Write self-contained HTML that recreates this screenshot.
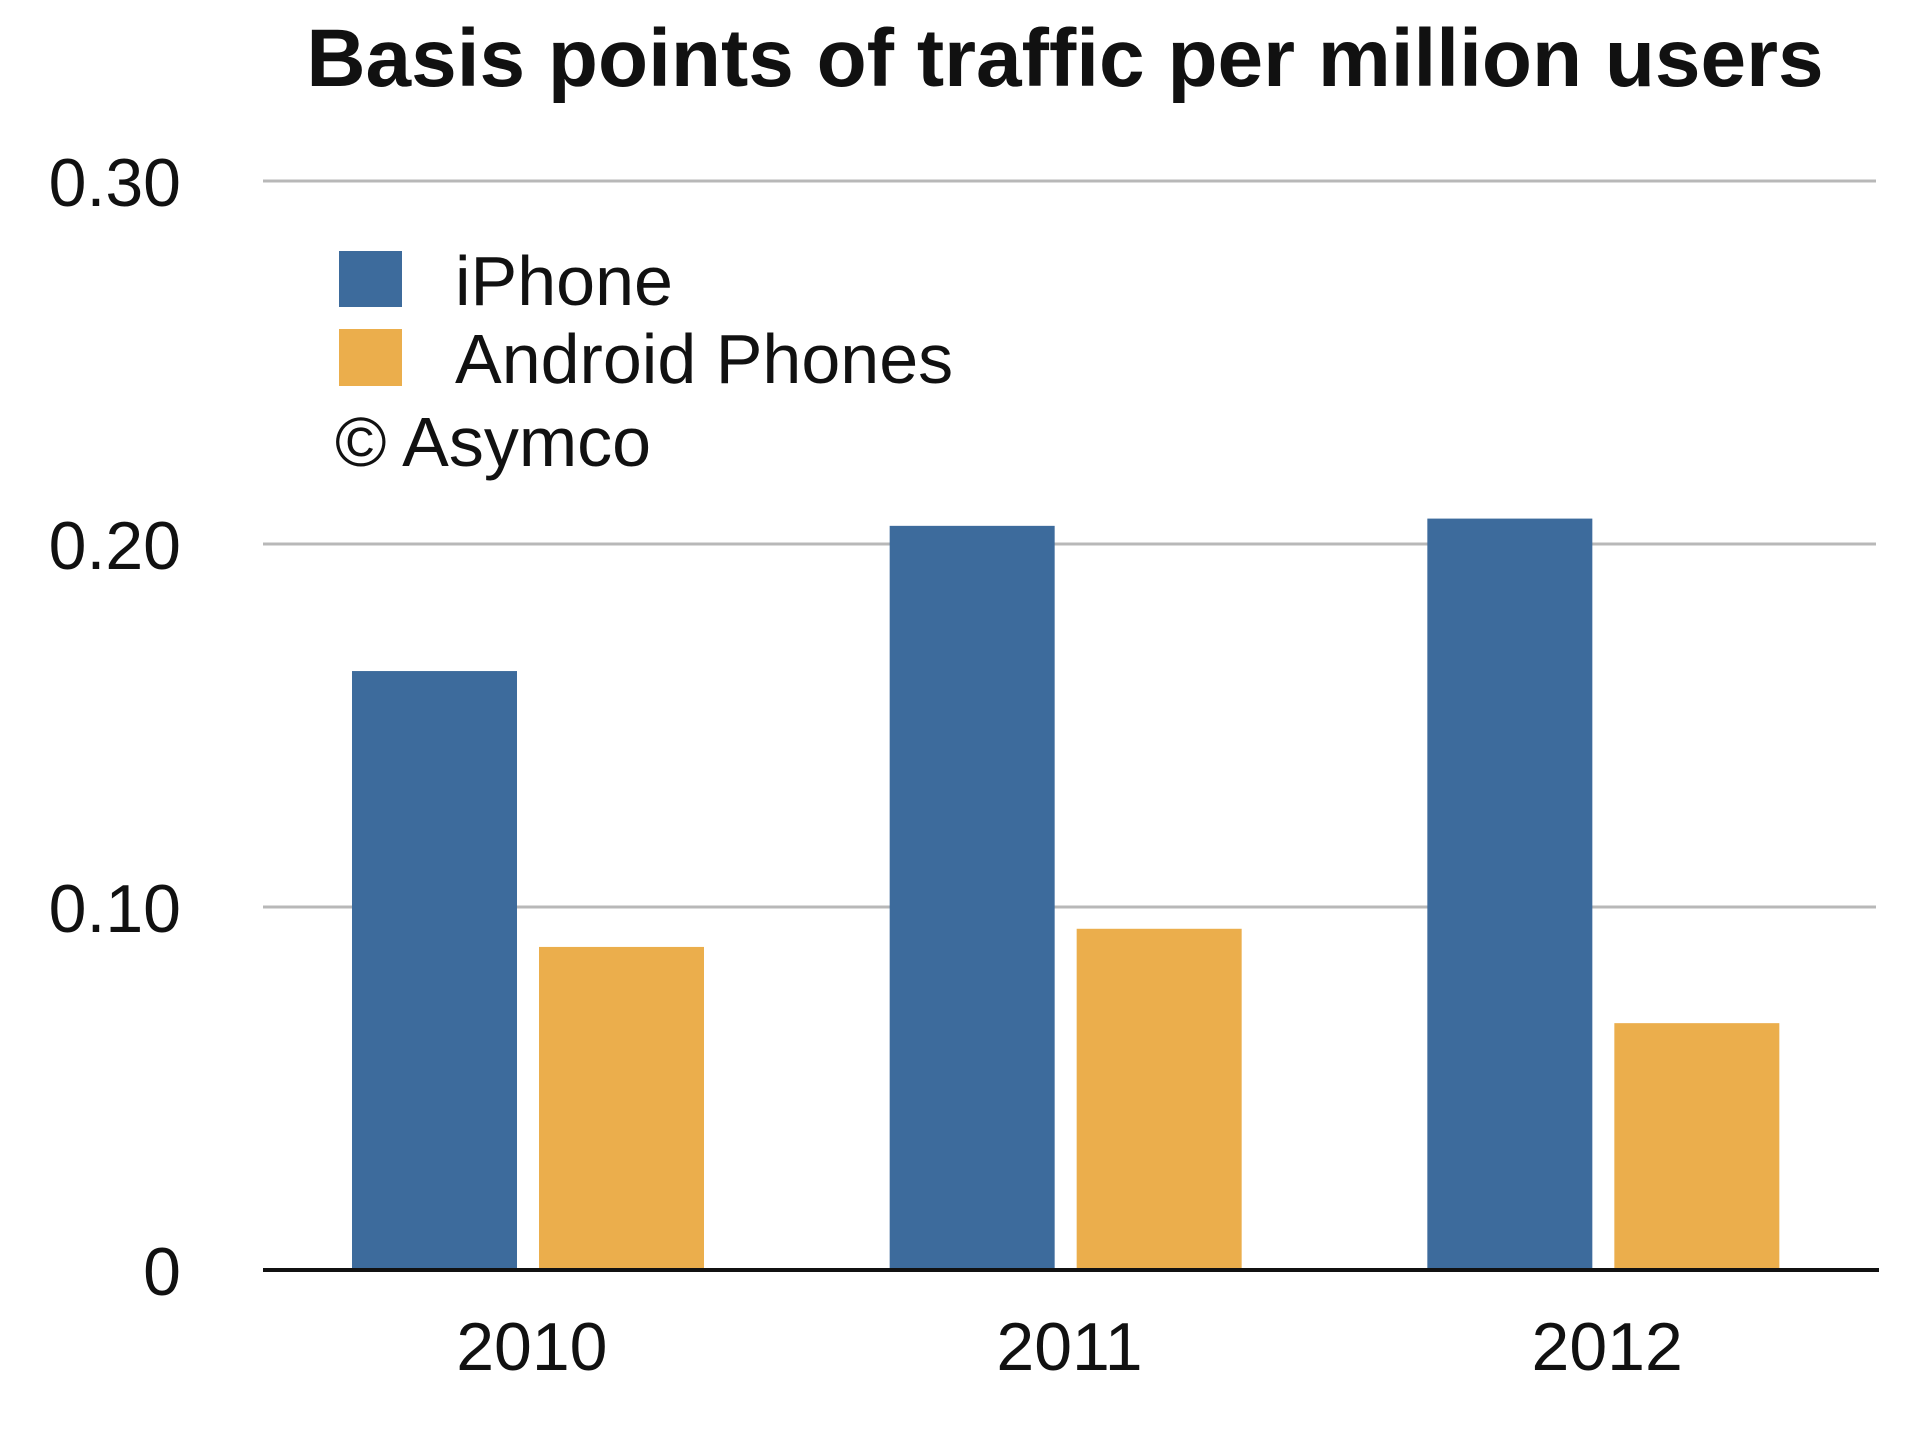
<!DOCTYPE html>
<html><head><meta charset="utf-8"><style>
html,body{margin:0;padding:0;background:#fff;}
svg{display:block;font-family:"Liberation Sans",Arial,sans-serif;}
</style></head><body>
<svg id="chart" width="1920" height="1453" viewBox="0 0 1920 1453">
<text x="1065" y="86" text-anchor="middle" font-size="82" font-weight="bold" fill="#111">Basis points of traffic per million users</text>
<g id="grid"></g>
<g id="bars"></g>
<g id="axes"></g>
<g>
<rect x="339" y="251" width="63" height="56" fill="#3d6b9c"/>
<text x="455" y="305" font-size="70" fill="#111">iPhone</text>
<rect x="339" y="329" width="63" height="57" fill="#ebae4c"/>
<text x="455" y="383" font-size="70" fill="#111">Android Phones</text>
<text x="335" y="466" font-size="70" fill="#111">© Asymco</text>
</g>
</svg>
<script>
const categories = ["2010","2011","2012"];
const iphoneValues = [0.165, 0.205, 0.207];
const androidValues = [0.089, 0.094, 0.068];
const yTicks = [0, 0.10, 0.20, 0.30];
const yTickLabels = ["0","0.10","0.20","0.30"];

(function(){
const NS="http://www.w3.org/2000/svg";
const pLeft=263,pRight=1876,yTop=181,yBottom=1270,yMax=0.30;
const y=v=>yBottom-(v/yMax)*(yBottom-yTop);
const band=(pRight-pLeft)/categories.length;
const bx=(i,s)=>pLeft+i*band+89+s*187;
const bw=165;
function mk(tag,attrs,parent){const e=document.createElementNS(NS,tag);for(const k in attrs)e.setAttribute(k,attrs[k]);parent.appendChild(e);return e;}
const grid=document.getElementById('grid'),bars=document.getElementById('bars'),axes=document.getElementById('axes');
yTicks.forEach((t,i)=>{
  if(t>0){const l=mk('line',{x1:pLeft,x2:pRight,y1:y(t),y2:y(t),stroke:'#b8b8b8','stroke-width':3},grid);
  
  }
  const tx=mk('text',{x:181,y:y(t)+25,'text-anchor':'end','font-size':68,fill:'#111'},axes);
  tx.textContent=yTickLabels[i];
  
  
});
categories.forEach((c,i)=>{
  const r1=mk('rect',{x:bx(i,0),y:y(iphoneValues[i]),width:bw,height:yBottom-y(iphoneValues[i]),fill:'#3d6b9c'},bars);
  
  
  const r2=mk('rect',{x:bx(i,1),y:y(androidValues[i]),width:bw,height:yBottom-y(androidValues[i]),fill:'#ebae4c'},bars);
  
  
  const t=mk('text',{x:pLeft+band*(i+0.5),y:1370,'text-anchor':'middle','font-size':68,fill:'#111'},axes);
  t.textContent=c;
  
  
});
const base=mk('line',{x1:pLeft,x2:pRight+3,y1:yBottom,y2:yBottom,stroke:'#111','stroke-width':4},axes);


})();
</script>
</body></html>
